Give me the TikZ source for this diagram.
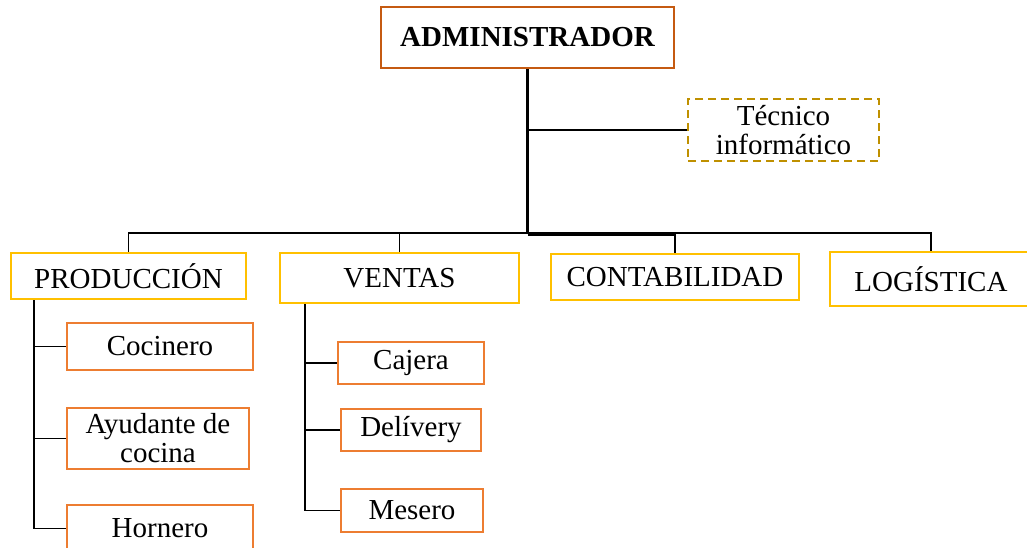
\documentclass[tikz,border=0pt]{standalone}
\usepackage{fontspec}
\setmainfont{Liberation Serif}

\definecolor{jefecol}{HTML}{C55A11}
\definecolor{areacol}{HTML}{FFC000}
\definecolor{puestocol}{HTML}{ED7D31}
\definecolor{apoyocol}{HTML}{BF9000}

\begin{document}
\begin{tikzpicture}[x=0.5pt, y=-0.5pt,
    every node/.style = {font=\fontsize{14.5}{14.5}\selectfont, align=center, inner sep=0pt},
    wh/.style 2 args = {minimum width=#1*0.5pt, minimum height=#2*0.5pt},
    jefe/.style = {draw=jefecol, line width=1pt, font=\fontsize{14.5}{14.5}\selectfont\bfseries},
    area/.style = {draw=areacol, line width=1pt},
    puesto/.style = {draw=puestocol, line width=1pt},
    apoyo/.style = {draw=apoyocol, line width=1.1pt, dash pattern=on 4pt off 2.5pt},
    fino/.style = {line width=0.6pt},
    medio/.style = {line width=0.8pt},
    grueso/.style = {line width=1.1pt}]
            \useasboundingbox (0,0) rectangle (1027,547);

            \node[jefe, wh={293}{61}] (ADMIN) at (527.5,37.5) {ADMINISTRADOR};
            \node[apoyo, wh={191}{62}] (TEC) at (783.5,130) {Técnico\\informático};

            %areas

            \node[area, wh={235}{46}] (PROD) at (128.5,276) {PRODUCCIÓN};
            \node[area, wh={239}{50}] (VEN) at (399.5,278) {VENTAS};
            \node[area, wh={248}{46}] (CONT) at (675,277) {CONTABILIDAD};
            \node[area, wh={202}{54}] (LOG) at (931,279) {LOGÍSTICA};

            \coordinate (BUS) at (527.5,233);
            \coordinate (BUS2) at (527.5,235);
            \draw[grueso] (ADMIN) -- (BUS);
            \draw[fino] (ADMIN.south |- TEC) -- (TEC);
            \draw[fino] (BUS) -| (PROD);
            \draw[fino] (BUS) -| (VEN);
            \draw[fino] (BUS2) -| (CONT);
            \draw[grueso] (BUS) -| (LOG);

            %below produccion

            \node[puesto, wh={186}{47}] (COC) at (160,346.5) {Cocinero};
            \node[puesto, wh={182}{61}] (AYU) at (158,438.5) {Ayudante de\\cocina};
            \node[puesto, wh={186}{47}] (HOR) at (160,528.5) {Hornero};
            \coordinate (PL) at (34,0);
            \draw[medio] (PROD.south -| PL) |- (HOR);
            \draw[fino] (PL |- COC) -- (COC);
            \draw[fino] (PL |- AYU) -- (AYU);

            %below ventas

            \node[puesto, wh={146}{42}] (CAJ) at (411,363) {Cajera};
            \node[puesto, wh={140}{42}] (DEL) at (411,430) {Delívery};
            \node[puesto, wh={142}{43}] (MES) at (412,510.5) {Mesero};
            \coordinate (VL) at (305,0);
            \draw[medio] (VEN.south -| VL) |- (MES);
            \draw[fino] (VL |- CAJ) -- (CAJ);
            \draw[fino] (VL |- DEL) -- (DEL);
        \end{tikzpicture}
\end{document}
